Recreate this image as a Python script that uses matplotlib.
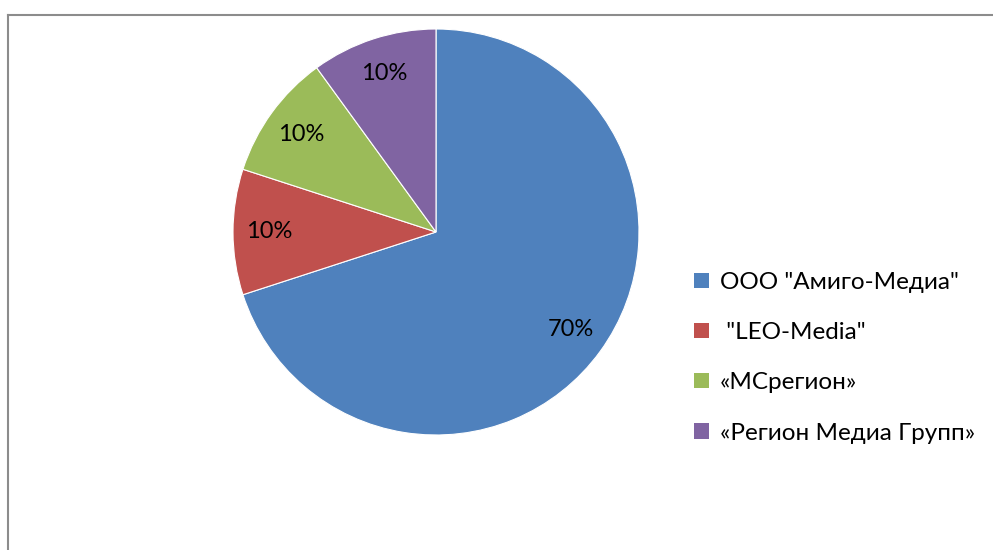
import matplotlib
matplotlib.use("Agg")
import matplotlib.pyplot as plt
from matplotlib.lines import Line2D
from matplotlib.patches import Patch

plt.rcParams['font.family'] = ['Lato', 'DejaVu Sans']

labels = ['ООО "Амиго-Медиа"', ' "LEO-Media"', '«МСрегион»', '«Регион Медиа Групп»']
values = [70, 10, 10, 10]
colors = ['#4F81BD', '#C0504D', '#9BBB59', '#8064A2']

W, H = 993, 550
fig = plt.figure(figsize=(W / 100, H / 100), dpi=100)

# border (top and left visible)
fig.add_artist(Line2D([8 / W, 8 / W], [0, 1 - 15 / H], color='#8c8c8c', lw=1.5, transform=fig.transFigure))
fig.add_artist(Line2D([8 / W, 1], [1 - 15 / H, 1 - 15 / H], color='#8c8c8c', lw=1.5, transform=fig.transFigure))

cx, cy, r = 436, 232, 203
ax = fig.add_axes([(cx - r) / W, 1 - (cy + r) / H, 2 * r / W, 2 * r / H])
wedges, texts, autotexts = ax.pie(values, colors=colors, startangle=90, counterclock=False,
                                  autopct='%1.0f%%', pctdistance=0.82, radius=1,
                                  wedgeprops=dict(linewidth=0.8, edgecolor='white'),
                                  textprops=dict(fontsize=17, color='black'))
ax.set_xlim(-1, 1)
ax.set_ylim(-1, 1)
ax.set_aspect('equal')
ax.axis('off')

handles = [Patch(facecolor=c, edgecolor='none') for c in colors]
fig.legend(handles, labels, loc='upper left', bbox_to_anchor=(694 / W, 1 - 272 / H),
           frameon=False, fontsize=17.5, handlelength=0.6, handleheight=0.6,
           handletextpad=0.45, labelspacing=1.2, borderaxespad=0, borderpad=0)

fig.savefig('out.png', dpi=100, facecolor='white')
